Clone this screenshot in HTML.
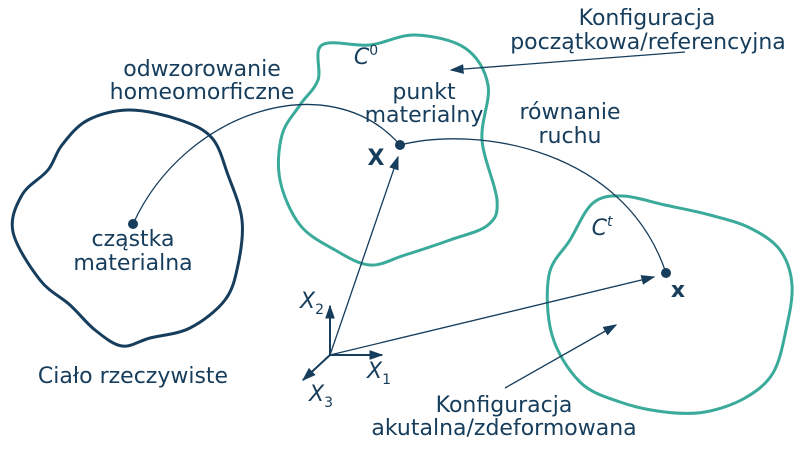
<!DOCTYPE html>
<html><head><meta charset="utf-8"><style>
html,body{margin:0;padding:0;background:#fff;}
svg{display:block;}
text{font-family:"DejaVu Sans","Liberation Sans",sans-serif;fill:#163d5c;font-size:22px;text-anchor:middle;}
</style></head><body>
<svg id="s" width="800" height="450" viewBox="0 0 800 450">
<defs><marker id="b" viewBox="0 0 10 10" refX="9" refY="5" markerWidth="14" markerHeight="14" markerUnits="userSpaceOnUse" orient="auto"><path d="M0,1.5L10,5L0,8.5z" fill="#163d5c"/></marker></defs>
<path id="p1" fill="none" stroke="#163d5c" stroke-width="3"/>
<path id="p2" fill="none" stroke="#3aaa9a" stroke-width="3"/>
<path id="p3" fill="none" stroke="#3aaa9a" stroke-width="3"/>
<g stroke="#163d5c" stroke-width="1.3" fill="none">
<path d="M133,224 C185,110 330,65 400,145"/>
<path d="M400,145 C480,125 625,150 666,273"/>
<path d="M330,355 L398,157" marker-end="url(#b)"/>
<path d="M330,355 L654,277" marker-end="url(#b)"/>
<path d="M685,52 L451,70" marker-end="url(#b)"/>
<path d="M505,388 L616,325" marker-end="url(#b)"/>
<path d="M330,355 L330,306" stroke-width="2" marker-end="url(#b)"/>
<path d="M330,355 L382,355" stroke-width="2" marker-end="url(#b)"/>
<path d="M330,355 L303,380" stroke-width="2" marker-end="url(#b)"/>
</g>
<g fill="#163d5c"><circle cx="133" cy="224" r="5"/><circle cx="400" cy="145" r="5"/><circle cx="666" cy="273" r="5"/></g>
<text x="647" y="25">Konfiguracja</text>
<text x="648" y="49">początkowa/referencyjna</text>
<text x="202" y="76">odwzorowanie</text>
<text x="202" y="99">homeomorficzne</text>
<text x="424" y="99">punkt</text>
<text x="424" y="122">materialny</text>
<text x="570" y="119">równanie</text>
<text x="570" y="143">ruchu</text>
<text x="133" y="246">cząstka</text>
<text x="133" y="270">materialna</text>
<text x="133" y="383">Ciało rzeczywiste</text>
<text x="504" y="412">Konfiguracja</text>
<text x="504" y="435">akutalna/zdeformowana</text>
<text x="366" y="64" font-style="italic">C<tspan font-size="14" font-style="normal" dy="-9">0</tspan></text>
<text x="602" y="235" font-style="italic">C<tspan font-size="14" dy="-9">t</tspan></text>
<text x="376" y="165" font-weight="bold">X</text>
<text x="678" y="297" font-weight="bold">x</text>
<text x="312" y="308" font-style="italic">X<tspan font-size="14" font-style="normal" dy="6">2</tspan></text>
<text x="379" y="378" font-style="italic">X<tspan font-size="14" font-style="normal" dy="6">1</tspan></text>
<text x="321" y="401" font-style="italic">X<tspan font-size="14" font-style="normal" dy="6">3</tspan></text>
</svg>
<script>
function cr(p){var n=p.length,d="M"+p[0][0]+","+p[0][1];
for(var i=0;i<n;i++){var p0=p[(i-1+n)%n],p1=p[i],p2=p[(i+1)%n],p3=p[(i+2)%n];
d+=" C"+(p1[0]+(p2[0]-p0[0])/6)+","+(p1[1]+(p2[1]-p0[1])/6)+" "+(p2[0]-(p3[0]-p1[0])/6)+","+(p2[1]-(p3[1]-p1[1])/6)+" "+p2[0]+","+p2[1];}
return d+"Z";}
document.getElementById("p1").setAttribute("d",cr([[130,110],[180,120],[212,138],[228,175],[242,220],[238,265],[225,300],[190,328],[150,338],[122,346],[95,330],[70,305],[40,280],[13,232],[22,195],[48,170],[62,145],[88,120]]));
document.getElementById("p2").setAttribute("d",cr([[322,45],[370,45],[415,35],[465,48],[488,85],[482,140],[497,200],[488,225],[450,240],[405,255],[370,265],[335,250],[300,225],[280,180],[282,135],[300,105],[318,80]]));
document.getElementById("p3").setAttribute("d",cr([[593,203],[623,196],[665,205],[710,215],[750,228],[780,250],[792,285],[786,330],[773,373],[745,398],[705,412],[665,412],[620,402],[580,382],[552,335],[549,275],[570,240]]));
</script>
</body></html>
